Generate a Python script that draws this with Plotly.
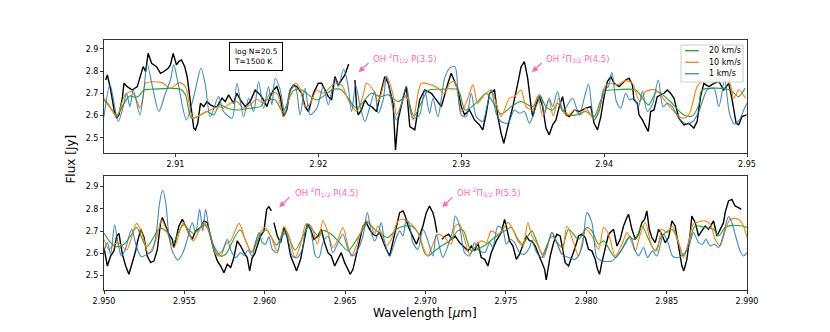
import plotly.graph_objects as go

# ---------------- Panel 1 (2.905 - 2.950 um) ----------------
P1_OBS_WL = [
    2.90512, 2.90523, 2.90547, 2.90570, 2.90588, 2.90605, 2.90628, 2.90640, 2.90663, 2.90698,
    2.90733, 2.90756, 2.90774, 2.90791, 2.90809, 2.90833, 2.90868, 2.90895, 2.90919, 2.90949,
    2.90965, 2.90984, 2.91007, 2.91023, 2.91042, 2.91065, 2.91082, 2.91100, 2.91116, 2.91128,
    2.91140, 2.91156, 2.91175, 2.91198, 2.91221, 2.91244, 2.91268, 2.91291, 2.91326, 2.91349,
    2.91372, 2.91407, 2.91430, 2.91454, 2.91489, 2.91523, 2.91558, 2.91593, 2.91617, 2.91640,
    2.91663, 2.91686, 2.91710, 2.91733, 2.91756, 2.91779, 2.91803, 2.91826, 2.91849, 2.91884,
    2.91907, 2.91931, 2.91966, 2.91989, 2.92000, 2.92023, 2.92047, 2.92070, 2.92093, 2.92116,
    2.92140, 2.92163, 2.92186, 2.92212, None, 2.92256, 2.92268, 2.92279, 2.92302, 2.92326,
    2.92349, 2.92372, 2.92407, 2.92442, 2.92465, 2.92489, 2.92523, 2.92540, 2.92558, 2.92593,
    2.92616, 2.92640, 2.92675, 2.92709, 2.92744, 2.92791, 2.92826, 2.92861, 2.92907, 2.92930,
    2.92954, 2.92977, 2.93000, 2.93023, 2.93058, 2.93093, 2.93128, 2.93151, 2.93175, 2.93198,
    2.93233, 2.93256, 2.93279, 2.93298, 2.93326, 2.93361, 2.93396, 2.93419, 2.93442, 2.93465,
    2.93489, 2.93500, 2.93523, 2.93547, 2.93570, 2.93593, 2.93616, 2.93640, 2.93663, 2.93686,
    2.93709, 2.93733, 2.93756, 2.93791, 2.93826, 2.93872, 2.93907, 2.93930, 2.93954, 2.93977,
    2.94000, 2.94023, 2.94047, 2.94070, 2.94105, 2.94151, 2.94175, 2.94198, 2.94209, 2.94233,
    2.94244, 2.94268, 2.94291, 2.94309, 2.94326, 2.94349, 2.94372, 2.94396, 2.94419, 2.94442,
    2.94465, 2.94489, 2.94523, 2.94558, 2.94593, 2.94628, 2.94651, 2.94675, 2.94698, 2.94733,
    2.94768, 2.94803, 2.94837, 2.94872, 2.94896, 2.94924, 2.94942, 2.94965, 2.94996]
P1_OBS_FLUX = [
    2.760, 2.783, 2.715, 2.625, 2.588, 2.603, 2.678, 2.745, 2.730, 2.715,
    2.730, 2.775, 2.820, 2.798, 2.880, 2.835, 2.820, 2.790, 2.798, 2.813,
    2.828, 2.880, 2.828, 2.843, 2.850, 2.820, 2.775, 2.685, 2.595, 2.543,
    2.535, 2.565, 2.655, 2.640, 2.663, 2.648, 2.640, 2.640, 2.678, 2.663,
    2.693, 2.655, 2.700, 2.670, 2.640, 2.663, 2.715, 2.693, 2.670, 2.640,
    2.685, 2.715, 2.730, 2.685, 2.595, 2.625, 2.715, 2.738, 2.730, 2.700,
    2.640, 2.618, 2.700, 2.730, 2.745, 2.745, 2.715, 2.685, 2.670, 2.775,
    2.738, 2.760, 2.783, 2.832, None, 2.760, 2.640, 2.603, 2.625, 2.670,
    2.648, 2.640, 2.618, 2.715, 2.775, 2.745, 2.655, 2.445, 2.580, 2.678,
    2.730, 2.550, 2.535, 2.670, 2.715, 2.700, 2.670, 2.640, 2.745, 2.790,
    2.753, 2.715, 2.640, 2.603, 2.625, 2.580, 2.558, 2.535, 2.610, 2.700,
    2.715, 2.595, 2.520, 2.475, 2.550, 2.640, 2.745, 2.820, 2.843, 2.768,
    2.640, 2.595, 2.648, 2.685, 2.640, 2.543, 2.513, 2.558, 2.580, 2.640,
    2.685, 2.603, 2.595, 2.625, 2.618, 2.633, 2.640, 2.565, 2.535, 2.595,
    2.685, 2.753, 2.775, 2.745, 2.730, 2.760, 2.768, 2.738, 2.670, 2.655,
    2.603, 2.580, 2.550, 2.528, 2.618, 2.625, 2.685, 2.693, 2.700, 2.715,
    2.700, 2.678, 2.588, 2.558, 2.565, 2.543, 2.573, 2.685, 2.745, 2.730,
    2.745, 2.753, 2.715, 2.745, 2.670, 2.565, 2.558, 2.595, 2.603]

P1_20_WL = [
    2.90500, 2.90547, 2.90588, 2.90640, 2.90681, 2.90721, 2.90744, 2.90779, 2.90826, 2.91035,
    2.91070, 2.91112, 2.91175, 2.91221, 2.91268, 2.91309, 2.91361, 2.91430, 2.91523, 2.91593,
    2.91635, 2.91698, 2.91751, 2.91826, 2.91884, 2.91931, 2.91989, 2.92105, 2.92163, 2.92209,
    2.92268, 2.92372, 2.92430, 2.92489, 2.92558, 2.92616, 2.92670, 2.92768, 2.92861, 2.92977,
    2.93028, 2.93116, 2.93175, 2.93279, 2.93349, 2.93419, 2.93500, 2.93547, 2.93593, 2.93640,
    2.93674, 2.93709, 2.93756, 2.93814, 2.93872, 2.93930, 2.93977, 2.94016, 2.94058, 2.94221,
    2.94268, 2.94312, 2.94370, 2.94463, 2.94556, 2.94616, 2.94663, 2.94686, 2.94882, 2.94940,
    2.94986]
P1_20_FLUX = [
    2.670, 2.633, 2.598, 2.655, 2.688, 2.682, 2.688, 2.715, 2.718, 2.718,
    2.693, 2.588, 2.603, 2.618, 2.603, 2.648, 2.633, 2.625, 2.633, 2.640,
    2.670, 2.670, 2.618, 2.712, 2.715, 2.693, 2.670, 2.718, 2.715, 2.678,
    2.633, 2.700, 2.685, 2.693, 2.663, 2.685, 2.598, 2.712, 2.718, 2.715,
    2.625, 2.663, 2.700, 2.607, 2.640, 2.663, 2.640, 2.693, 2.640, 2.625,
    2.655, 2.625, 2.603, 2.603, 2.618, 2.595, 2.670, 2.712, 2.715, 2.715,
    2.678, 2.648, 2.708, 2.663, 2.603, 2.598, 2.648, 2.715, 2.715, 2.685,
    2.723]

P1_10_WL = [
    2.90500, 2.90535, 2.90588, 2.90647, 2.90693, 2.90733, 2.90751, 2.90774, 2.90791, 2.90907,
    2.90961, 2.91030, 2.91070, 2.91123, 2.91175, 2.91221, 2.91302, 2.91337, 2.91384, 2.91430,
    2.91477, 2.91523, 2.91570, 2.91617, 2.91663, 2.91710, 2.91756, 2.91803, 2.91838, 2.91872,
    2.91907, 2.91942, 2.91989, 2.92035, 2.92116, 2.92163, 2.92209, 2.92268, 2.92314, 2.92337,
    2.92384, 2.92419, 2.92477, 2.92523, 2.92547, 2.92593, 2.92616, 2.92663, 2.92721, 2.92791,
    2.92837, 2.92884, 2.92919, 2.92954, 2.93000, 2.93047, 2.93082, 2.93116, 2.93163, 2.93210,
    2.93244, 2.93279, 2.93337, 2.93372, 2.93419, 2.93454, 2.93500, 2.93535, 2.93570, 2.93612,
    2.93644, 2.93681, 2.93721, 2.93756, 2.93791, 2.93837, 2.93872, 2.93930, 2.93977, 2.93993,
    2.94035, 2.94093, 2.94151, 2.94198, 2.94249, 2.94291, 2.94361, 2.94430, 2.94489, 2.94547,
    2.94593, 2.94651, 2.94686, 2.94872, 2.94907, 2.94942, 2.94989]
P1_10_FLUX = [
    2.678, 2.648, 2.595, 2.693, 2.708, 2.663, 2.633, 2.685, 2.745, 2.748,
    2.723, 2.748, 2.730, 2.588, 2.603, 2.618, 2.640, 2.633, 2.655, 2.663,
    2.633, 2.648, 2.673, 2.655, 2.700, 2.700, 2.595, 2.700, 2.745, 2.723,
    2.640, 2.655, 2.715, 2.700, 2.745, 2.738, 2.670, 2.618, 2.693, 2.745,
    2.715, 2.663, 2.775, 2.693, 2.603, 2.670, 2.693, 2.580, 2.745, 2.738,
    2.723, 2.700, 2.745, 2.753, 2.618, 2.678, 2.738, 2.655, 2.693, 2.715,
    2.655, 2.595, 2.678, 2.685, 2.715, 2.640, 2.625, 2.688, 2.598, 2.670,
    2.598, 2.678, 2.610, 2.603, 2.625, 2.603, 2.633, 2.583, 2.655, 2.715,
    2.745, 2.738, 2.757, 2.745, 2.663, 2.708, 2.715, 2.663, 2.618, 2.588,
    2.603, 2.730, 2.753, 2.753, 2.678, 2.715, 2.678]

P1_1_WL = [
    2.90500, 2.90542, 2.90600, 2.90640, 2.90658, 2.90681, 2.90705, 2.90751, 2.90779, 2.90802,
    2.90844, 2.90884, 2.90930, 2.90965, 2.90988, 2.91023, 2.91077, 2.91128, 2.91179, 2.91209,
    2.91244, 2.91302, 2.91337, 2.91396, 2.91430, 2.91477, 2.91512, 2.91547, 2.91582, 2.91617,
    2.91651, 2.91675, 2.91698, 2.91733, 2.91768, 2.91803, 2.91838, 2.91872, 2.91907, 2.91942,
    2.91989, 2.92035, 2.92070, 2.92116, 2.92140, 2.92177, 2.92205, 2.92233, 2.92261, 2.92293,
    2.92326, 2.92361, 2.92395, 2.92419, 2.92454, 2.92477, 2.92512, 2.92547, 2.92582, 2.92616,
    2.92663, 2.92709, 2.92744, 2.92779, 2.92802, 2.92837, 2.92884, 2.92919, 2.92956, 2.92977,
    2.93000, 2.93035, 2.93070, 2.93105, 2.93151, 2.93175, 2.93210, 2.93244, 2.93279, 2.93326,
    2.93372, 2.93407, 2.93442, 2.93477, 2.93500, 2.93523, 2.93558, 2.93581, 2.93616, 2.93640,
    2.93674, 2.93709, 2.93744, 2.93779, 2.93826, 2.93861, 2.93891, 2.93930, 2.93965, 2.94000,
    2.94030, 2.94054, 2.94086, 2.94116, 2.94151, 2.94179, 2.94209, 2.94240, 2.94268, 2.94302,
    2.94337, 2.94379, 2.94412, 2.94442, 2.94477, 2.94523, 2.94575, 2.94621, 2.94663, 2.94691,
    2.94721, 2.94768, 2.94803, 2.94844, 2.94877, 2.94912, 2.94947, 2.94977, 2.95000]
P1_1_FLUX = [
    2.595, 2.738, 2.573, 2.655, 2.700, 2.640, 2.715, 2.603, 2.715, 2.832,
    2.715, 2.618, 2.700, 2.760, 2.828, 2.730, 2.580, 2.685, 2.813, 2.738,
    2.595, 2.685, 2.618, 2.588, 2.745, 2.595, 2.678, 2.618, 2.753, 2.633,
    2.730, 2.648, 2.768, 2.715, 2.603, 2.715, 2.730, 2.603, 2.723, 2.603,
    2.633, 2.730, 2.648, 2.768, 2.730, 2.808, 2.745, 2.618, 2.738, 2.640,
    2.573, 2.640, 2.708, 2.610, 2.670, 2.778, 2.663, 2.580, 2.655, 2.730,
    2.588, 2.603, 2.715, 2.610, 2.678, 2.595, 2.768, 2.813, 2.820, 2.715,
    2.603, 2.595, 2.700, 2.595, 2.573, 2.625, 2.715, 2.610, 2.573, 2.565,
    2.625, 2.610, 2.618, 2.565, 2.595, 2.640, 2.685, 2.603, 2.678, 2.640,
    2.708, 2.618, 2.648, 2.678, 2.603, 2.678, 2.742, 2.580, 2.618, 2.715,
    2.730, 2.795, 2.663, 2.633, 2.700, 2.670, 2.678, 2.640, 2.708, 2.618,
    2.648, 2.760, 2.640, 2.655, 2.640, 2.588, 2.562, 2.573, 2.618, 2.670,
    2.715, 2.723, 2.640, 2.760, 2.610, 2.562, 2.580, 2.625, 2.655]

# ---------------- Panel 2 (2.950 - 2.990 um) ----------------
P2_OBS_WL = [
    2.95000, 2.95021, 2.95041, 2.95062, 2.95079, 2.95093, 2.95114, 2.95135, 2.95155, 2.95176,
    2.95197, 2.95207, 2.95228, 2.95249, 2.95269, 2.95290, 2.95311, 2.95332, 2.95352, 2.95363,
    2.95384, 2.95404, 2.95425, 2.95435, 2.95466, 2.95487, 2.95508, 2.95529, 2.95549, 2.95570,
    2.95601, 2.95622, 2.95643, 2.95663, 2.95684, 2.95705, 2.95726, 2.95746, 2.95767, 2.95788,
    2.95808, 2.95829, 2.95850, 2.95871, 2.95891, 2.95906, 2.95922, 2.95937, 2.95954, 2.95974,
    2.95995, 2.96012, 2.96026, 2.96041, None, 2.96057, 2.96078, 2.96099, 2.96119, 2.96140,
    2.96161, 2.96182, 2.96198, 2.96223, 2.96244, 2.96265, 2.96285, 2.96306, 2.96331, 2.96352,
    2.96372, 2.96393, 2.96414, 2.96435, 2.96455, 2.96476, 2.96497, 2.96518, 2.96532, 2.96549,
    2.96569, 2.96590, 2.96611, 2.96632, 2.96652, 2.96673, 2.96694, 2.96715, 2.96735, 2.96756,
    2.96777, 2.96797, 2.96818, 2.96839, 2.96860, 2.96874, 2.96891, 2.96922, 2.96943, 2.96963,
    2.96984, 2.97005, 2.97025, 2.97046, 2.97057, 2.97071, None, 2.97102, 2.97123, 2.97144,
    2.97164, 2.97185, 2.97212, 2.97243, 2.97264, 2.97285, 2.97305, 2.97326, 2.97347, 2.97368,
    2.97388, 2.97409, 2.97440, 2.97471, 2.97492, 2.97502, 2.97523, 2.97544, 2.97565, 2.97585,
    2.97606, 2.97627, 2.97647, 2.97662, 2.97683, 2.97703, 2.97724, 2.97741, 2.97751, 2.97766,
    2.97776, 2.97797, 2.97817, 2.97838, 2.97859, 2.97869, 2.97890, 2.97911, 2.97931, 2.97952,
    2.97973, 2.97994, 2.98014, 2.98035, 2.98056, 2.98070, 2.98083, 2.98097, 2.98118, 2.98139,
    2.98170, 2.98191, 2.98211, 2.98232, 2.98253, 2.98263, 2.98284, 2.98305, 2.98325, 2.98346,
    2.98363, 2.98377, 2.98392, 2.98408, 2.98429, 2.98450, 2.98470, 2.98491, 2.98512, 2.98533,
    2.98553, 2.98574, 2.98595, 2.98607, 2.98626, 2.98647, 2.98657, 2.98678, 2.98699, 2.98719,
    2.98740, 2.98761, 2.98792, 2.98813, 2.98833, 2.98854, 2.98864, 2.98885, 2.98906, 2.98926,
    2.98947, 2.98964]
P2_OBS_FLUX = [
    2.626, 2.543, 2.588, 2.611, 2.678, 2.690, 2.596, 2.543, 2.506, 2.558,
    2.611, 2.648, 2.708, 2.671, 2.588, 2.558, 2.566, 2.618, 2.738, 2.761,
    2.723, 2.686, 2.663, 2.626, 2.723, 2.753, 2.723, 2.686, 2.663, 2.701,
    2.716, 2.746, 2.738, 2.678, 2.611, 2.566, 2.543, 2.513, 2.551, 2.536,
    2.581, 2.656, 2.633, 2.603, 2.581, 2.521, 2.581, 2.596, 2.633, 2.678,
    2.701, 2.798, 2.810, 2.791, None, 2.738, 2.678, 2.648, 2.716, 2.671,
    2.588, 2.551, 2.521, 2.573, 2.648, 2.731, 2.708, 2.663, 2.678, 2.708,
    2.648, 2.603, 2.588, 2.543, 2.573, 2.603, 2.558, 2.528, 2.506, 2.528,
    2.588, 2.648, 2.723, 2.738, 2.708, 2.686, 2.678, 2.693, 2.656, 2.618,
    2.588, 2.648, 2.723, 2.783, 2.791, 2.768, 2.723, 2.678, 2.641, 2.678,
    2.723, 2.783, 2.813, 2.783, 2.753, 2.693, None, 2.663, 2.678, 2.686,
    2.663, 2.678, 2.648, 2.626, 2.611, 2.633, 2.611, 2.648, 2.581, 2.573,
    2.543, 2.603, 2.656, 2.693, 2.753, 2.723, 2.656, 2.633, 2.573, 2.596,
    2.641, 2.678, 2.656, 2.656, 2.633, 2.596, 2.566, 2.528, 2.480, 2.558,
    2.588, 2.648, 2.686, 2.678, 2.588, 2.558, 2.543, 2.581, 2.626, 2.678,
    2.686, 2.671, 2.618, 2.611, 2.573, 2.528, 2.506, 2.558, 2.618, 2.686,
    2.708, 2.633, 2.663, 2.723, 2.761, 2.776, 2.708, 2.663, 2.686, 2.738,
    2.753, 2.791, 2.708, 2.671, 2.648, 2.708, 2.686, 2.648, 2.671, 2.746,
    2.723, 2.626, 2.543, 2.521, 2.573, 2.693, 2.768, 2.738, 2.678, 2.701,
    2.723, 2.708, 2.746, 2.678, 2.708, 2.738, 2.783, 2.836, 2.843, 2.813,
    2.806, 2.798]

P2_20_WL = [
    2.95000, 2.95041, 2.95079, 2.95124, 2.95166, 2.95203, 2.95265, 2.95348, 2.95394, 2.95425,
    2.95493, 2.95556, 2.95628, 2.95684, 2.95726, 2.95757, 2.95846, 2.95918, 2.95974, 2.96012,
    2.96074, 2.96126, 2.96188, 2.96244, 2.96275, 2.96337, 2.96362, 2.96414, 2.96466, 2.96518,
    2.96559, 2.96611, 2.96642, 2.96683, 2.96725, 2.96766, 2.96818, 2.96870, 2.96911, 2.96953,
    2.96994, 2.97015, 2.97057, 2.97098, 2.97150, 2.97202, 2.97233, 2.97285, 2.97326, 2.97378,
    2.97430, 2.97492, 2.97533, 2.97575, 2.97606, 2.97637, 2.97662, 2.97683, 2.97728, 2.97786,
    2.97849, 2.97890, 2.97952, 2.98004, 2.98035, 2.98077, 2.98108, 2.98180, 2.98222, 2.98263,
    2.98305, 2.98346, 2.98388, 2.98429, 2.98470, 2.98533, 2.98574, 2.98605, 2.98647, 2.98678,
    2.98740, 2.98792, 2.98823, 2.98864, 2.98906, 2.98968, 2.99000]
P2_20_FLUX = [
    2.690, 2.648, 2.630, 2.641, 2.678, 2.716, 2.630, 2.713, 2.693, 2.641,
    2.728, 2.690, 2.728, 2.633, 2.588, 2.596, 2.705, 2.606, 2.686, 2.705,
    2.638, 2.705, 2.615, 2.686, 2.720, 2.675, 2.703, 2.686, 2.648, 2.611,
    2.648, 2.708, 2.738, 2.708, 2.686, 2.671, 2.708, 2.723, 2.723, 2.693,
    2.603, 2.588, 2.611, 2.633, 2.656, 2.701, 2.705, 2.611, 2.618, 2.641,
    2.671, 2.701, 2.716, 2.663, 2.641, 2.678, 2.701, 2.671, 2.596, 2.678,
    2.626, 2.708, 2.663, 2.716, 2.701, 2.641, 2.656, 2.581, 2.618, 2.671,
    2.663, 2.723, 2.663, 2.611, 2.678, 2.708, 2.648, 2.588, 2.671, 2.723,
    2.716, 2.708, 2.678, 2.716, 2.726, 2.723, 2.716]

P2_10_WL = [
    2.95000, 2.95031, 2.95062, 2.95093, 2.95141, 2.95203, 2.95238, 2.95276, 2.95321, 2.95359,
    2.95394, 2.95435, 2.95493, 2.95529, 2.95556, 2.95591, 2.95622, 2.95659, 2.95694, 2.95726,
    2.95757, 2.95788, 2.95840, 2.95881, 2.95918, 2.95949, 2.96001, 2.96037, 2.96078, 2.96119,
    2.96150, 2.96188, 2.96223, 2.96258, 2.96289, 2.96327, 2.96362, 2.96393, 2.96424, 2.96455,
    2.96486, 2.96518, 2.96538, 2.96569, 2.96600, 2.96632, 2.96663, 2.96683, 2.96704, 2.96725,
    2.96756, 2.96787, 2.96829, 2.96860, 2.96901, 2.96932, 2.96963, 2.96994, 2.97015, 2.97046,
    2.97077, 2.97119, 2.97160, 2.97185, 2.97212, 2.97243, 2.97274, 2.97305, 2.97347, 2.97378,
    2.97409, 2.97450, 2.97481, 2.97513, 2.97544, 2.97575, 2.97606, 2.97637, 2.97662, 2.97703,
    2.97735, 2.97786, 2.97817, 2.97849, 2.97880, 2.97921, 2.97952, 2.97998, 2.98035, 2.98077,
    2.98108, 2.98139, 2.98180, 2.98222, 2.98253, 2.98284, 2.98305, 2.98336, 2.98367, 2.98408,
    2.98439, 2.98470, 2.98502, 2.98533, 2.98574, 2.98605, 2.98636, 2.98667, 2.98740, 2.98771,
    2.98802, 2.98833, 2.98864, 2.98896, 2.98947, 2.98978, 2.99000]
P2_10_FLUX = [
    2.663, 2.618, 2.641, 2.645, 2.615, 2.735, 2.686, 2.600, 2.656, 2.750,
    2.693, 2.626, 2.738, 2.686, 2.656, 2.701, 2.738, 2.693, 2.596, 2.588,
    2.641, 2.656, 2.735, 2.656, 2.603, 2.663, 2.716, 2.678, 2.611, 2.720,
    2.678, 2.581, 2.641, 2.733, 2.723, 2.641, 2.746, 2.693, 2.626, 2.663,
    2.716, 2.633, 2.588, 2.633, 2.701, 2.746, 2.723, 2.686, 2.723, 2.693,
    2.633, 2.663, 2.746, 2.753, 2.738, 2.716, 2.678, 2.611, 2.588, 2.641,
    2.686, 2.671, 2.641, 2.723, 2.731, 2.663, 2.596, 2.626, 2.656, 2.648,
    2.701, 2.686, 2.708, 2.738, 2.708, 2.656, 2.633, 2.738, 2.678, 2.633,
    2.581, 2.693, 2.648, 2.596, 2.723, 2.648, 2.588, 2.708, 2.678, 2.618,
    2.716, 2.686, 2.588, 2.641, 2.693, 2.648, 2.611, 2.686, 2.738, 2.633,
    2.611, 2.708, 2.693, 2.723, 2.648, 2.581, 2.648, 2.731, 2.746, 2.731,
    2.663, 2.633, 2.701, 2.753, 2.753, 2.723, 2.671]

P2_1_WL = [
    2.95000, 2.95021, 2.95041, 2.95066, 2.95087, 2.95108, 2.95131, 2.95172, 2.95201, 2.95232,
    2.95269, 2.95301, 2.95328, 2.95346, 2.95365, 2.95384, 2.95404, 2.95425, 2.95460, 2.95491,
    2.95518, 2.95549, 2.95570, 2.95595, 2.95614, 2.95632, 2.95653, 2.95674, 2.95705, 2.95736,
    2.95767, 2.95788, 2.95819, 2.95850, 2.95871, 2.95896, 2.95922, 2.95943, 2.95964, 2.95985,
    2.96005, 2.96026, 2.96047, 2.96078, 2.96099, 2.96130, 2.96150, 2.96171, 2.96202, 2.96233,
    2.96254, 2.96275, 2.96296, 2.96316, 2.96337, 2.96362, 2.96393, 2.96424, 2.96455, 2.96486,
    2.96518, 2.96549, 2.96580, 2.96611, 2.96638, 2.96663, 2.96683, 2.96704, 2.96725, 2.96746,
    2.96777, 2.96808, 2.96839, 2.96860, 2.96880, 2.96901, 2.96922, 2.96953, 2.96984, 2.97005,
    2.97025, 2.97046, 2.97067, 2.97088, 2.97108, 2.97139, 2.97171, 2.97185, 2.97212, 2.97243,
    2.97274, 2.97305, 2.97326, 2.97368, 2.97399, 2.97419, 2.97450, 2.97481, 2.97502, 2.97527,
    2.97554, 2.97585, 2.97616, 2.97647, 2.97662, 2.97693, 2.97724, 2.97755, 2.97786, 2.97817,
    2.97849, 2.97890, 2.97931, 2.97973, 2.98004, 2.98035, 2.98066, 2.98097, 2.98160, 2.98201,
    2.98242, 2.98274, 2.98305, 2.98325, 2.98357, 2.98381, 2.98412, 2.98439, 2.98481, 2.98512,
    2.98537, 2.98574, 2.98605, 2.98636, 2.98667, 2.98699, 2.98723, 2.98744, 2.98771, 2.98798,
    2.98823, 2.98854, 2.98885, 2.98906, 2.98926, 2.98957, 2.98978, 2.99000]
P2_1_FLUX = [
    2.611, 2.648, 2.596, 2.728, 2.648, 2.588, 2.615, 2.708, 2.633, 2.585,
    2.596, 2.611, 2.708, 2.828, 2.885, 2.828, 2.678, 2.611, 2.570, 2.603,
    2.663, 2.738, 2.693, 2.798, 2.701, 2.798, 2.708, 2.648, 2.596, 2.611,
    2.663, 2.615, 2.581, 2.603, 2.591, 2.615, 2.588, 2.648, 2.693, 2.648,
    2.641, 2.675, 2.618, 2.603, 2.663, 2.693, 2.648, 2.588, 2.581, 2.618,
    2.708, 2.731, 2.663, 2.588, 2.581, 2.648, 2.678, 2.603, 2.648, 2.686,
    2.618, 2.588, 2.618, 2.678, 2.783, 2.693, 2.656, 2.686, 2.738, 2.648,
    2.588, 2.648, 2.701, 2.678, 2.753, 2.723, 2.648, 2.618, 2.708, 2.678,
    2.633, 2.588, 2.686, 2.626, 2.581, 2.633, 2.708, 2.768, 2.723, 2.603,
    2.588, 2.648, 2.618, 2.603, 2.648, 2.626, 2.723, 2.708, 2.641, 2.663,
    2.648, 2.603, 2.596, 2.626, 2.656, 2.603, 2.581, 2.626, 2.693, 2.648,
    2.596, 2.581, 2.573, 2.626, 2.783, 2.738, 2.581, 2.566, 2.566, 2.596,
    2.641, 2.678, 2.611, 2.588, 2.626, 2.581, 2.611, 2.588, 2.686, 2.641,
    2.588, 2.581, 2.596, 2.626, 2.693, 2.648, 2.641, 2.663, 2.633, 2.641,
    2.626, 2.686, 2.765, 2.738, 2.686, 2.611, 2.588, 2.603]

# ---------------- Ticks / labels ----------------
P1_XTICKS = [2.91, 2.92, 2.93, 2.94, 2.95]
P1_XTICKTEXT = ["2.91", "2.92", "2.93", "2.94", "2.95"]
P2_XTICKS = [2.950, 2.955, 2.960, 2.965, 2.970, 2.975, 2.980, 2.985, 2.990]
P2_XTICKTEXT = ["2.950", "2.955", "2.960", "2.965", "2.970", "2.975", "2.980", "2.985", "2.990"]
YTICKS = [2.5, 2.6, 2.7, 2.8, 2.9]
YTICKTEXT = ["2.5", "2.6", "2.7", "2.8", "2.9"]

OH_LABELS = ["OH <sup>2</sup>Π<sub>1/2</sub> P(3.5)", "OH <sup>2</sup>Π<sub>3/2</sub> P(4.5)",
             "OH <sup>2</sup>Π<sub>1/2</sub> P(4.5)", "OH <sup>2</sup>Π<sub>3/2</sub> P(5.5)"]
OH_PANEL = [1, 1, 2, 2]
OH_TEXT_WL = [2.92371, 2.93581, 2.96173, 2.97183]
OH_TEXT_FLUX = [2.860, 2.860, 2.875, 2.875]
OH_TAIL_WL = [2.92362, 2.93572, 2.96163, 2.97177]
OH_TAIL_FLUX = [2.843, 2.843, 2.860, 2.860]
OH_TIP_WL = [2.92282, 2.93496, 2.96090, 2.97104]
OH_TIP_FLUX = [2.795, 2.795, 2.807, 2.807]

LEGEND_NAMES = ["20 km/s", "10 km/s", "1 km/s"]

FONT = "DejaVu Sans"
PINK = "#ff69b4"
C_OBS = "black"
C20 = "#2ca02c"
C10 = "#ff7f0e"
C1 = "rgba(31,119,180,0.85)"
LEGEND_COLORS = [C20, C10, C1]

fig = go.Figure()

def add_panel(wl_obs, fl_obs, w20, f20, w10, f10, w1, f1, xa, ya):
    fig.add_trace(go.Scatter(x=wl_obs, y=fl_obs, mode="lines", line=dict(color=C_OBS, width=1.4),
                             showlegend=False, xaxis=xa, yaxis=ya, connectgaps=False))
    for w, f, c, n in ((w20, f20, C20, LEGEND_NAMES[0]), (w10, f10, C10, LEGEND_NAMES[1]),
                       (w1, f1, C1, LEGEND_NAMES[2])):
        fig.add_trace(go.Scatter(x=w, y=f, mode="lines", name=n,
                                 line=dict(color=c, width=1.1, shape="spline", smoothing=0.8),
                                 showlegend=False, xaxis=xa, yaxis=ya))

add_panel(P1_OBS_WL, P1_OBS_FLUX, P1_20_WL, P1_20_FLUX, P1_10_WL, P1_10_FLUX,
          P1_1_WL, P1_1_FLUX, "x", "y")
add_panel(P2_OBS_WL, P2_OBS_FLUX, P2_20_WL, P2_20_FLUX, P2_10_WL, P2_10_FLUX,
          P2_1_WL, P2_1_FLUX, "x2", "y2")

axis_common = dict(showline=True, mirror=True, linecolor="#333", linewidth=1,
                   ticks="outside", ticklen=3, tickwidth=1, tickcolor="#333",
                   showgrid=False, zeroline=False,
                   tickfont=dict(family=FONT, size=8, color="black"))

annotations = []
for i in range(4):
    xr = "x" if OH_PANEL[i] == 1 else "x2"
    yr = "y" if OH_PANEL[i] == 1 else "y2"
    annotations.append(dict(x=OH_TEXT_WL[i], y=OH_TEXT_FLUX[i], xref=xr, yref=yr,
                            text=OH_LABELS[i], showarrow=False, xanchor="left", yanchor="middle",
                            font=dict(family=FONT, size=8.5, color=PINK)))
    annotations.append(dict(x=OH_TIP_WL[i], y=OH_TIP_FLUX[i], xref=xr, yref=yr,
                            ax=OH_TAIL_WL[i], ay=OH_TAIL_FLUX[i], axref=xr, ayref=yr,
                            text="", showarrow=True, arrowhead=2, arrowsize=1,
                            arrowwidth=1.2, arrowcolor=PINK))

annotations.append(dict(x=0.1944, y=0.992, xref="paper", yref="paper", xanchor="left", yanchor="top",
                        text="log N=20.5<br>T=1500 K", showarrow=False, align="left",
                        bordercolor="black", borderwidth=1, borderpad=4, bgcolor="white",
                        font=dict(family=FONT, size=7.5, color="black")))
annotations.append(dict(x=-0.052, y=0.524, xref="paper", yref="paper", textangle=-90,
                        text="Flux [Jy]", showarrow=False, xanchor="center", yanchor="middle",
                        font=dict(family=FONT, size=12, color="black")))
annotations.append(dict(x=0.499, y=-0.09, xref="paper", yref="paper",
                        text="Wavelength [<i>μ</i>m]", showarrow=False, xanchor="center", yanchor="middle",
                        font=dict(family=FONT, size=12, color="black")))

# hand-drawn legend (matplotlib-style compact box)
shapes = [dict(type="rect", xref="paper", yref="paper", x0=0.8974, x1=0.9938, y0=0.832, y1=0.98,
               line=dict(color="#cccccc", width=1), fillcolor="rgba(255,255,255,0.85)", layer="above")]
LEG_Y = [0.9572, 0.9108, 0.8652]
for i in range(3):
    shapes.append(dict(type="line", xref="paper", yref="paper", x0=0.9036, x1=0.9253,
                       y0=LEG_Y[i], y1=LEG_Y[i], line=dict(color=LEGEND_COLORS[i], width=1.3),
                       layer="above"))
    annotations.append(dict(x=0.9378, y=LEG_Y[i], xref="paper", yref="paper", xanchor="left",
                            yanchor="middle", text=LEGEND_NAMES[i], showarrow=False,
                            font=dict(family=FONT, size=8, color="black")))

fig.update_layout(
    width=822, height=324,
    margin=dict(l=96, r=83, t=32, b=42),
    paper_bgcolor="white", plot_bgcolor="white",
    font=dict(family=FONT, size=8, color="black"),
    showlegend=False,
    xaxis=dict(domain=[0, 1], anchor="y", range=[2.905, 2.95], tickvals=P1_XTICKS,
               ticktext=P1_XTICKTEXT, **axis_common),
    yaxis=dict(domain=[0.547, 1], anchor="x", range=[2.430, 2.940], tickvals=YTICKS,
               ticktext=YTICKTEXT, **axis_common),
    xaxis2=dict(domain=[0, 1], anchor="y2", range=[2.95, 2.99], tickvals=P2_XTICKS,
                ticktext=P2_XTICKTEXT, **axis_common),
    yaxis2=dict(domain=[0, 0.456], anchor="x2", range=[2.435, 2.948], tickvals=YTICKS,
                ticktext=YTICKTEXT, **axis_common),
    annotations=annotations,
    shapes=shapes,
    hovermode=False,
)

fig.write_html("out.html")
